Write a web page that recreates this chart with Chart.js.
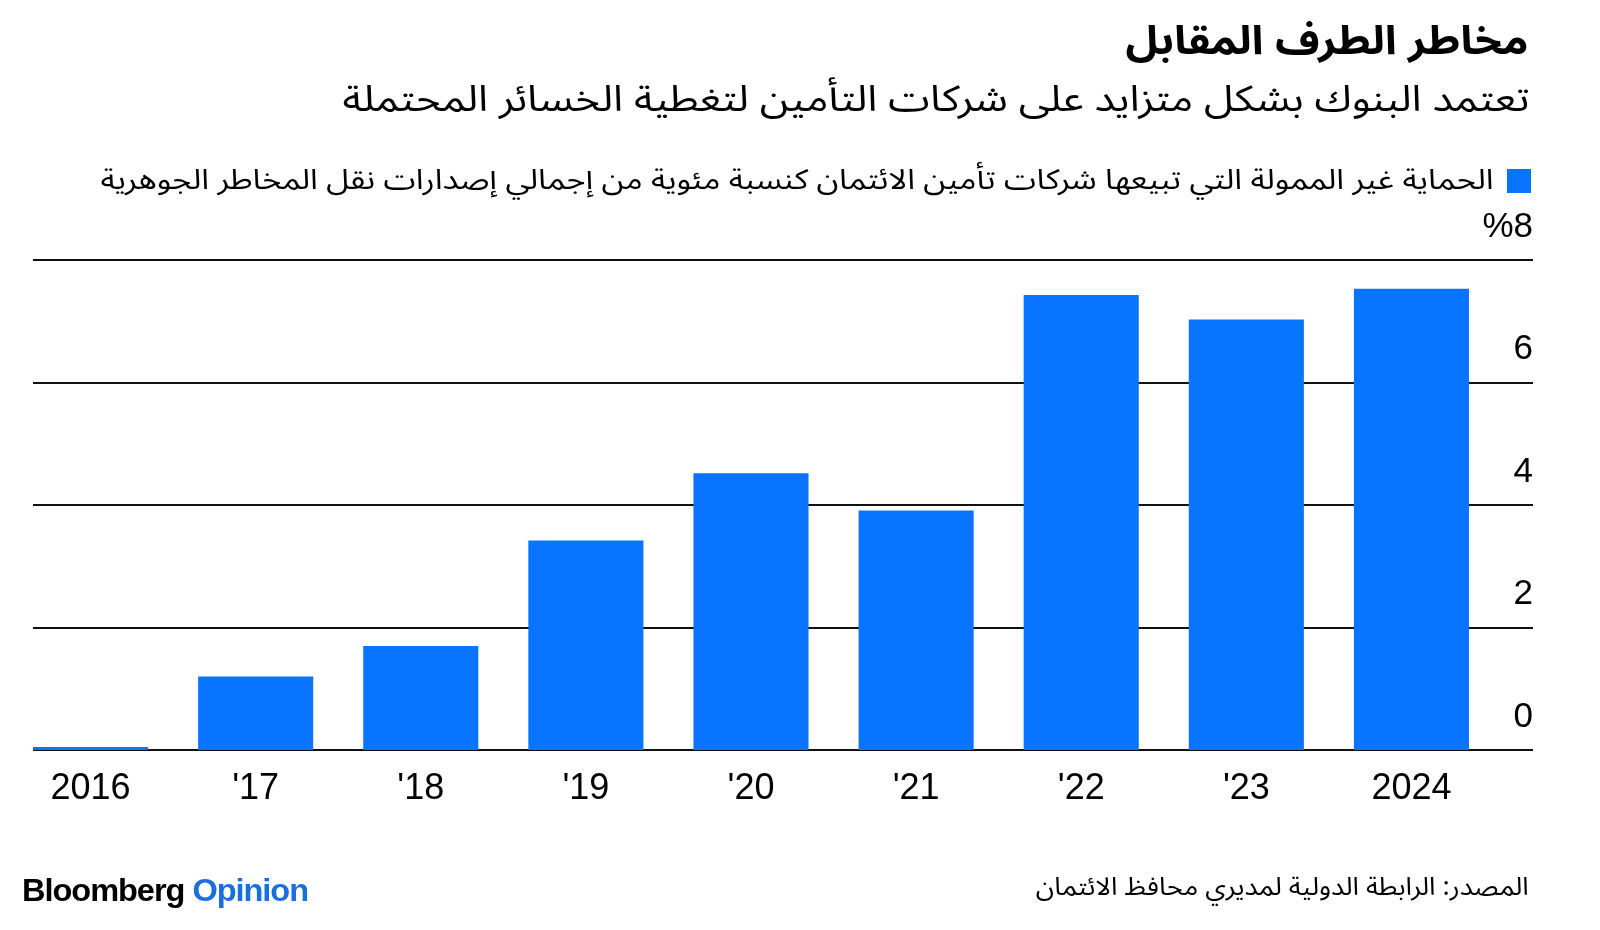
<!DOCTYPE html>
<html>
<head>
<meta charset="utf-8">
<script src="https://cdn.jsdelivr.net/npm/chart.js@4.4.1/dist/chart.umd.min.js"></script>
<style>
  html, body { margin: 0; padding: 0; background: #ffffff; }
  #wrap { position: relative; width: 1600px; height: 930px; overflow: hidden; background: #ffffff; }
  #c { position: absolute; left: 0; top: 0; }
  .t { position: absolute; white-space: nowrap; color: #000; direction: rtl; font-family: "Noto Sans Arabic", "DejaVu Sans", sans-serif; line-height: 1; }
  .r { transform-origin: right center; }
  .l { transform-origin: left center; }
  #title { right: 72px; top: 22px; font-size: 40px; font-weight: bold; }
  #subtitle { right: 70px; top: 82px; font-size: 36px; }
  #legend { right: 107px; top: 167px; font-size: 28px; }
  #legbox { position: absolute; left: 1507px; top: 169px; width: 24px; height: 24px; background: #0874ff; }
  #source { right: 71px; top: 875px; font-size: 25px; }
  #logo { position: absolute; left: 22px; top: 875px; font-family: "Liberation Sans", Arial, sans-serif; font-weight: bold; font-size: 31px; letter-spacing: -1px; white-space: nowrap; direction: ltr; line-height: 1; }
  #logo span { color: #1a6fe0; }
</style>
</head>
<body>
<div id="wrap">
  <canvas id="c" width="1600" height="930"></canvas>
  <div id="title" class="t r fit" data-w="403">مخاطر الطرف المقابل</div>
  <div id="subtitle" class="t r fit" data-w="1187">تعتمد البنوك بشكل متزايد على شركات التأمين لتغطية الخسائر المحتملة</div>
  <div id="legbox"></div>
  <div id="legend" class="t r fit" data-w="1393">الحماية غير الممولة التي تبيعها شركات تأمين الائتمان كنسبة مئوية من إجمالي إصدارات نقل المخاطر الجوهرية</div>
  <div id="source" class="t r fit" data-w="493">المصدر: الرابطة الدولية لمديري محافظ الائتمان</div>
  <div id="logo" class="l fit" data-w="286">Bloomberg <span>Opinion</span></div>
</div>
<script>
// ---- data ----
const categories = ['2016', "'17", "'18", "'19", "'20", "'21", "'22", "'23", '2024'];
const protectionShare = [0.05, 1.20, 1.70, 3.42, 4.52, 3.91, 7.43, 7.03, 7.53];
const yTickValues = [0, 2, 4, 6, 8];
const yTopLabel = '%8';

// fit text widths
document.querySelectorAll('.fit').forEach(el => {
  const target = parseFloat(el.dataset.w);
  const w = el.getBoundingClientRect().width;
  if (w > 0) el.style.transform = 'scaleX(' + (target / w) + ')';
});

const BLUE = '#0874ff';

const gridPlugin = {
  id: 'customGrid',
  beforeDatasetsDraw(chart) {
    const y = chart.scales.y;
    const ctx = chart.ctx;
    ctx.save();
    ctx.strokeStyle = '#111111';
    ctx.lineWidth = 2;
    y.ticks.forEach(t => {
      const py = Math.round(y.getPixelForValue(t.value));
      ctx.beginPath();
      ctx.moveTo(33, py);
      ctx.lineTo(1533, py);
      ctx.stroke();
    });
    ctx.restore();
  }
};

new Chart(document.getElementById('c'), {
  type: 'bar',
  data: {
    labels: categories,
    datasets: [{
      data: protectionShare,
      backgroundColor: BLUE,
      borderWidth: 0,
      categoryPercentage: 0.697,
      barPercentage: 1.0
    }]
  },
  options: {
    responsive: false,
    animation: false,
    devicePixelRatio: 1,
    layout: { padding: { left: 8, right: 67, top: 260, bottom: 122 } },
    plugins: { legend: { display: false }, tooltip: { enabled: false } },
    scales: {
      x: {
        grid: { display: false, drawTicks: false },
        border: { display: false },
        ticks: {
          color: '#000',
          font: { family: '"Liberation Sans", Arial, sans-serif', size: 36 },
          padding: 17,
          maxRotation: 0,
          autoSkip: false
        },
        afterFit(s) { s.height = 58; }
      },
      y: {
        position: 'right',
        min: 0,
        max: 8,
        afterBuildTicks(s) { s.ticks = yTickValues.map(v => ({ value: v })); },
        grid: { display: false, drawTicks: false },
        border: { display: false },
        ticks: {
          color: '#000',
          font: { family: '"Liberation Sans", Arial, sans-serif', size: 35 },
          mirror: true,
          padding: 39,
          crossAlign: 'near',
          labelOffset: -33,
          callback: (v) => v === 8 ? yTopLabel : String(v)
        },
        afterFit(s) { s.width = 39; }
      }
    }
  },
  plugins: [gridPlugin]
});
</script>
</body>
</html>
